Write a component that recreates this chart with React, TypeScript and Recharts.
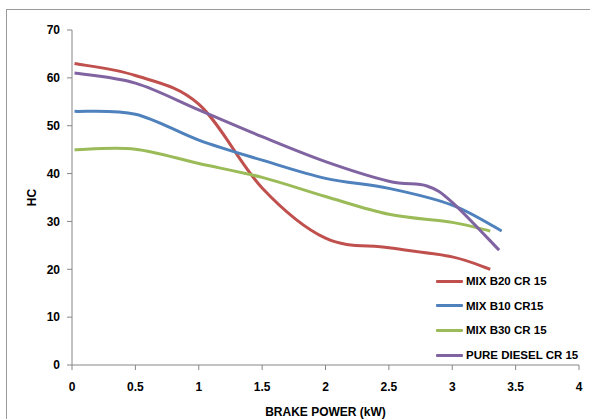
import { Label, Legend, Line, LineChart, XAxis, YAxis } from "recharts";

const FONT = '"Liberation Sans", Arial, sans-serif';

// brake power (kW) readings per series
const b20Power = [0.02, 0.5, 1, 1.5, 2, 2.5, 3, 3.3];
const b20Hc = [63, 60.5, 54.5, 37, 26.5, 24.5, 22.6, 20];

const b10Power = [0.02, 0.5, 1, 1.5, 2, 2.5, 3, 3.39];
const b10Hc = [53, 52.4, 47, 42.8, 39, 36.9, 33.4, 28];

const b30Power = [0.02, 0.5, 1, 1.5, 2, 2.5, 3, 3.3];
const b30Hc = [45, 45.1, 42.1, 39.2, 35.2, 31.5, 29.8, 28];

const dieselPower = [0.02, 0.5, 1, 1.5, 2, 2.5, 2.8, 3, 3.37];
const dieselHc = [61, 58.9, 53.3, 47.7, 42.5, 38.4, 37.4, 34, 24];

const xTicks = [0, 0.5, 1, 1.5, 2, 2.5, 3, 3.5, 4];
const yTicks = [0, 10, 20, 30, 40, 50, 60, 70];

const toPoints = (xs: number[], ys: number[]) => xs.map((x, i) => ({ x, y: ys[i] }));

const series = [
  { name: "MIX B20 CR 15", color: "#C0504D", data: toPoints(b20Power, b20Hc) },
  { name: "MIX B10 CR15", color: "#4F81BD", data: toPoints(b10Power, b10Hc) },
  { name: "MIX B30 CR 15", color: "#9BBB59", data: toPoints(b30Power, b30Hc) },
  { name: "PURE DIESEL CR 15", color: "#8064A2", data: toPoints(dieselPower, dieselHc) },
];

// spreadsheet-style smoothed line (uniform Catmull-Rom as cubic beziers)
function smoothCurve(context: any) {
  let pts: number[][] = [];
  return {
    areaStart() {},
    areaEnd() {},
    lineStart() {
      pts = [];
    },
    point(x: number, y: number) {
      pts.push([+x, +y]);
    },
    lineEnd() {
      if (!pts.length) return;
      context.moveTo(pts[0][0], pts[0][1]);
      for (let i = 0; i < pts.length - 1; i++) {
        const p0 = pts[i - 1] || pts[i];
        const p1 = pts[i];
        const p2 = pts[i + 1];
        const p3 = pts[i + 2] || p2;
        context.bezierCurveTo(
          p1[0] + (p2[0] - p0[0]) / 6,
          p1[1] + (p2[1] - p0[1]) / 6,
          p2[0] - (p3[0] - p1[0]) / 6,
          p2[1] - (p3[1] - p1[1]) / 6,
          p2[0],
          p2[1]
        );
      }
    },
  };
}

function HcLegend() {
  return (
    <div style={{ fontFamily: FONT, fontWeight: 700, fontSize: 11.5, color: "#000" }}>
      {series.map((s) => (
        <div key={s.name} style={{ display: "flex", alignItems: "center", height: 24.6 }}>
          <span
            style={{
              display: "inline-block",
              width: 27,
              height: 3,
              background: s.color,
              borderRadius: 1,
              marginRight: 3,
            }}
          />
          <span style={{ whiteSpace: "nowrap" }}>{s.name}</span>
        </div>
      ))}
    </div>
  );
}

export default function App() {
  const tickStyle = { fill: "#000", fontSize: 12, fontWeight: 700, fontFamily: FONT };

  return (
    <div style={{ position: "absolute", left: 0, top: 0, width: 590, height: 419, overflow: "hidden", background: "#fff" }}>
      <div
        style={{
          position: "absolute",
          left: 6,
          top: 9,
          width: 620,
          height: 440,
          border: "1px solid #9a9a9a",
        }}
      />
      <LineChart
        width={590}
        height={419}
        margin={{ top: 30, right: 11, left: 0, bottom: 0 }}
        style={{ position: "absolute", left: 0, top: 0 }}
      >
        <XAxis
          dataKey="x"
          type="number"
          domain={[0, 4]}
          ticks={xTicks}
          allowDuplicatedCategory={false}
          stroke="#868686"
          tickSize={5}
          tickMargin={12}
          height={54}
          tick={tickStyle}
        >
          <Label
            value="BRAKE POWER (kW)"
            position="insideBottom"
            offset={3}
            style={{ fill: "#000", fontSize: 12, fontWeight: 700, fontFamily: FONT }}
          />
        </XAxis>
        <YAxis
          type="number"
          domain={[0, 70]}
          ticks={yTicks}
          stroke="#868686"
          tickSize={5}
          tickMargin={7}
          width={72}
          tick={tickStyle}
        >
          <Label
            value="HC"
            angle={-90}
            position="insideLeft"
            offset={32}
            style={{ fill: "#000", fontSize: 12, fontWeight: 700, fontFamily: FONT, textAnchor: "middle" }}
          />
        </YAxis>
        <Legend
          layout="vertical"
          align="center"
          verticalAlign="middle"
          content={<HcLegend />}
          wrapperStyle={{ left: 436, top: 269, width: 150, height: 100 }}
        />
        {series.map((s) => (
          <Line
            key={s.name}
            name={s.name}
            data={s.data}
            dataKey="y"
            type={smoothCurve as any}
            stroke={s.color}
            strokeWidth={3}
            dot={false}
            isAnimationActive={false}
          />
        ))}
      </LineChart>
    </div>
  );
}
